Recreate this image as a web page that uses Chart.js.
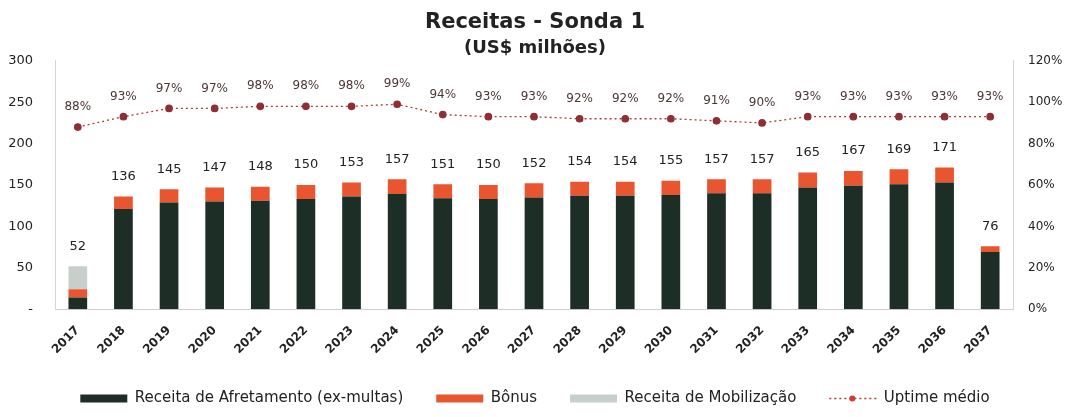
<!DOCTYPE html>
<html>
<head>
<meta charset="utf-8">
<script src="https://cdn.jsdelivr.net/npm/chart.js@4/dist/chart.umd.min.js"></script>
<style>
  body { margin: 0; background: #fff; }
  #box { width: 1072px; height: 417px; }
</style>
</head>
<body>
<div id="box"><canvas id="receitas"></canvas></div>
<script>
// dados
const anos = ['2017','2018','2019','2020','2021','2022','2023','2024','2025','2026','2027','2028','2029','2030','2031','2032','2033','2034','2035','2036','2037'];
const afretamento = [14,121,129,130,131,133,136,139,134,133,135,137,137,138,140,140,147,149,151,153,69];
const bonus = [10,15,16,17,17,17,17,18,17,17,17,17,17,17,17,17,18,18,18,18,7];
const mobilizacao = [28,0,0,0,0,0,0,0,0,0,0,0,0,0,0,0,0,0,0,0,0];
const uptime = [88,93,97,97,98,98,98,99,94,93,93,92,92,92,91,90,93,93,93,93,93];
const ticksEsq = [0,50,100,150,200,250,300];
const ticksDir = [0,20,40,60,80,100,120];

const fonte = "'DejaVu Sans', sans-serif";
const corLinha = '#b03a3a';

// escreve os totais em cima das barras e o uptime em cima dos pontos
const rotulos = {
  id: 'rotulos',
  afterDatasetsDraw(chart) {
    const ctx = chart.ctx;
    const y = chart.scales.y;
    const y1 = chart.scales.y1;
    const x = chart.scales.x;
    ctx.save();
    ctx.textAlign = 'center';
    ctx.textBaseline = 'middle';
    anos.forEach((a, i) => {
      const total = afretamento[i] + bonus[i] + mobilizacao[i];
      ctx.font = "13px " + fonte;
      ctx.fillStyle = '#222';
      ctx.fillText(total, x.getPixelForValue(i), y.getPixelForValue(total) - 20);
      ctx.font = "12px " + fonte;
      ctx.fillStyle = '#4e3636';
      ctx.fillText(uptime[i] + '%', x.getPixelForValue(i), y1.getPixelForValue(uptime[i]) - 20);
    });
    ctx.restore();
  },
  // marcador no meio da linha da legenda do uptime
  afterDraw(chart) {
    const lg = chart.legend;
    if (!lg || !lg.legendHitBoxes) return;
    const idx = lg.legendItems.findIndex(it => it.datasetIndex === 0);
    const hb = lg.legendHitBoxes[idx];
    if (!hb) return;
    const ctx = chart.ctx;
    ctx.save();
    ctx.fillStyle = '#d23a3a';
    ctx.beginPath();
    ctx.arc(hb.left + 23, hb.top + hb.height / 2, 3, 0, Math.PI * 2);
    ctx.fill();
    ctx.restore();
  }
};

const grafico = document.querySelector('#receitas');

new Chart(grafico, {
  type: 'bar',
  data: {
    labels: anos,
    datasets: [
      {
        type: 'line',
        label: 'Uptime médio',
        data: uptime,
        yAxisID: 'y1',
        borderColor: corLinha,
        borderWidth: 1.3,
        borderDash: [2, 3],
        pointRadius: 3.2,
        pointBackgroundColor: '#8e2f35',
        pointBorderColor: '#8e2f35',
        fill: false,
        order: 0
      },
      {
        label: 'Receita de Afretamento (ex-multas)',
        data: afretamento,
        backgroundColor: '#1d2e27',
        stack: 's',
        barPercentage: 0.41,
        categoryPercentage: 1,
        order: 1
      },
      {
        label: 'Bônus',
        data: bonus,
        backgroundColor: '#e8552e',
        stack: 's',
        barPercentage: 0.41,
        categoryPercentage: 1,
        order: 1
      },
      {
        label: 'Receita de Mobilização',
        data: mobilizacao,
        backgroundColor: '#c7cfcb',
        stack: 's',
        barPercentage: 0.41,
        categoryPercentage: 1,
        order: 1
      }
    ]
  },
  options: {
    responsive: true,
    maintainAspectRatio: false,
    animation: false,
    layout: { autoPadding: false, padding: { left: 8, right: 10, top: 6, bottom: 1 } },
    plugins: {
      title: {
        display: true,
        text: 'Receitas - Sonda 1',
        color: '#222',
        font: { family: fonte, size: 21, weight: 'bold' },
        padding: { top: 4, bottom: 2 }
      },
      subtitle: {
        display: true,
        text: '(US$ milhões)',
        color: '#222',
        font: { family: fonte, size: 18, weight: 'bold' },
        padding: { bottom: 2 }
      },
      legend: {
        position: 'bottom',
        labels: {
          color: '#222',
          font: { family: fonte, size: 15 },
          usePointStyle: true,
          pointStyleWidth: 47,
          boxHeight: 8,
          padding: 33,
          generateLabels(chart) {
            const itens = Chart.defaults.plugins.legend.labels.generateLabels(chart);
            const ordem = [1, 2, 3, 0];
            return ordem.map(i => {
              const it = itens.find(e => e.datasetIndex === i);
              if (i === 0) {
                it.pointStyle = 'line';
                it.strokeStyle = corLinha;
                it.lineWidth = 1.5;
                it.lineDash = [2, 3];
              } else {
                it.pointStyle = 'rect';
                it.lineWidth = 0;
              }
              return it;
            });
          }
        }
      },
      tooltip: { enabled: false }
    },
    scales: {
      x: {
        stacked: true,
        grid: { display: false },
        border: { color: '#cfcfcf' },
        afterFit(scale) { scale.height -= 5; },
        ticks: {
          color: '#222',
          font: { family: fonte, size: 12, weight: 'bold' },
          minRotation: 45,
          maxRotation: 45,
          padding: 6
        }
      },
      y: {
        stacked: true,
        min: 0,
        max: 300,
        grid: { display: false },
        border: { color: '#d5d5d5' },
        afterBuildTicks(axis) { axis.ticks = ticksEsq.map(v => ({ value: v })); },
        afterFit(scale) { scale.width = 47; },
        ticks: {
          color: '#222',
          font: { family: fonte, size: 13 },
          padding: 14,
          callback: v => v === 0 ? '-' : v
        }
      },
      y1: {
        position: 'right',
        min: 0,
        max: 120,
        grid: { display: false },
        border: { color: '#d5d5d5' },
        afterBuildTicks(axis) { axis.ticks = ticksDir.map(v => ({ value: v })); },
        afterFit(scale) { scale.width = 49; },
        ticks: {
          color: '#222',
          font: { family: fonte, size: 12 },
          padding: 7,
          callback: v => v + '%'
        }
      }
    }
  },
  plugins: [rotulos]
});
</script>
</body>
</html>
